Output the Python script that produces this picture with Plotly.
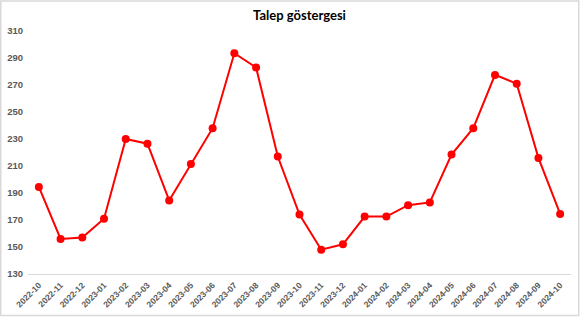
import plotly.graph_objects as go

months = ["2022-10", "2022-11", "2022-12", "2023-01", "2023-02", "2023-03", "2023-04",
          "2023-05", "2023-06", "2023-07", "2023-08", "2023-09", "2023-10", "2023-11",
          "2023-12", "2024-01", "2024-02", "2024-03", "2024-04", "2024-05", "2024-06",
          "2024-07", "2024-08", "2024-09", "2024-10"]
values = [194.5, 156, 157, 171, 230, 226.5, 184.5, 211.5, 238, 293.5, 283, 217, 174,
          148, 152, 172.5, 172.5, 181, 183, 218.5, 238, 277.5, 271, 216, 174.5]
y_ticks = [130, 150, 170, 190, 210, 230, 250, 270, 290, 310]

W, H = 580, 317
ml, mr, mt, mb = 28, 9, 31, 43
pw, ph = W - ml - mr, H - mt - mb

fig = go.Figure()
fig.add_trace(go.Scatter(
    x=months, y=values, mode="lines+markers",
    line=dict(color="#ff0000", width=2),
    marker=dict(color="#ff0000", size=8),
    hoverinfo="x+y",
))

def px_to_paper_x(px):
    return (px - ml) / pw

def px_to_paper_y(py):
    return 1 - (py - mt) / ph

fig.add_shape(type="rect", xref="paper", yref="paper",
              x0=px_to_paper_x(0.75), x1=px_to_paper_x(W - 1.25),
              y0=px_to_paper_y(H - 1.5), y1=px_to_paper_y(1),
              line=dict(color="#d9d9d9", width=1.5), layer="below")

fam = "Liberation Sans, Arial, sans-serif"

fig.update_layout(
    width=W, height=H,
    margin=dict(l=ml, r=mr, t=mt, b=mb, autoexpand=False),
    paper_bgcolor="white", plot_bgcolor="white",
    showlegend=False,
    title=dict(text="<b>Talep göstergesi</b>", x=0.5, xref="paper", xanchor="center",
               y=1 - 15 / H, yanchor="middle",
               font=dict(family="Lato, Liberation Sans, sans-serif", size=13, color="#000000")),
    font=dict(family=fam, size=10, color="#595959"),
)
fig.update_xaxes(
    type="category", tickangle=-45, showgrid=False, zeroline=False,
    showline=True, linecolor="#d9d9d9", linewidth=1, automargin=False,
    ticks="", tickfont=dict(size=8.5, color="#595959", family=fam, weight="bold"),
    ticklabelstandoff=2,
    range=[-0.5, len(months) - 0.5],
)
fig.update_yaxes(
    range=[130, 310], tickvals=y_ticks, showgrid=False, zeroline=False,
    showline=False, ticks="", automargin=False,
    tickfont=dict(size=9.5, color="#595959", family=fam, weight="bold"),
    ticklabelstandoff=4,
)

fig.write_html("out.html")
